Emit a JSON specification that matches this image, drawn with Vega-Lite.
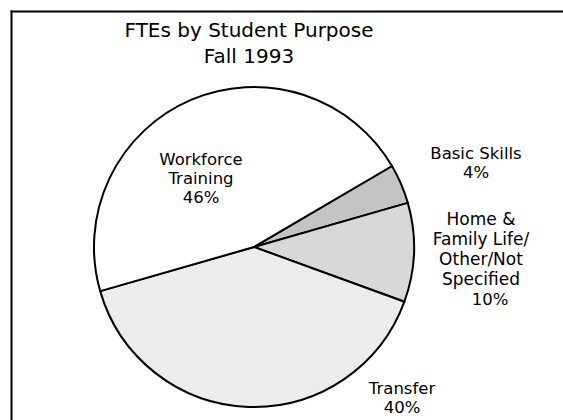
{
  "$schema": "https://vega.github.io/schema/vega-lite/v6.json",
  "width": 552,
  "height": 409,
  "autosize": "none",
  "padding": {"left": 11, "top": 11, "right": 0, "bottom": 0},
  "background": "white",
  "config": {
    "view": {"stroke": null},
    "axis": {"domain": true, "domainColor": "black", "domainWidth": 2, "domainCap": "square", "ticks": false, "labels": false, "grid": false, "title": null}
  },
  "title": {
    "text": ["FTEs by Student Purpose", "Fall 1993"],
    "font": "DejaVu Sans",
    "fontSize": 20,
    "fontWeight": "normal",
    "color": "black",
    "lineHeight": 26,
    "anchor": "middle",
    "frame": "group",
    "baseline": "alphabetic",
    "offset": 0,
    "dx": -38,
    "dy": 72
  },
  "layer": [
    {
      "data": {"values": [
        {"category": "Basic Skills", "value": 4, "order": 1, "cx": 0, "cy": 0},
        {"category": "Home & Family Life/Other/Not Specified", "value": 10, "order": 2, "cx": 0, "cy": 0},
        {"category": "Transfer", "value": 40, "order": 3, "cx": 0, "cy": 0},
        {"category": "Workforce Training", "value": 46, "order": 4, "cx": 0, "cy": 0}
      ]},
      "mark": {"type": "arc", "outerRadius": 160, "stroke": "black", "strokeWidth": 2},
      "encoding": {
        "x": {"field": "cx", "type": "quantitative", "scale": {"domain": [-243, 309], "nice": false, "zero": false}, "axis": {"orient": "top"}},
        "y": {"field": "cy", "type": "quantitative", "scale": {"domain": [-173, 236], "nice": false, "zero": false}, "axis": {"orient": "left"}},
        "theta": {"field": "value", "type": "quantitative", "stack": true, "scale": {"range": [1.040, 7.3232]}},
        "order": {"field": "order", "type": "quantitative"},
        "fill": {
          "field": "category", "type": "nominal",
          "scale": {"domain": ["Basic Skills", "Home & Family Life/Other/Not Specified", "Transfer", "Workforce Training"], "range": ["#c4c4c4", "#d8d8d8", "#ececec", "#ffffff"]},
          "legend": null
        }
      }
    },
    {
      "data": {"values": [
        {"label": "Workforce\nTraining\n46%", "lx": -53, "ly": 82},
        {"label": "Basic Skills\n4%", "lx": 222, "ly": 88},
        {"label": "10%", "lx": 236, "ly": -58},
        {"label": "Transfer\n40%", "lx": 148, "ly": -147}
      ]},
      "mark": {"type": "text", "font": "DejaVu Sans", "fontSize": 16.5, "color": "black", "lineBreak": "\n", "lineHeight": 19, "align": "center", "baseline": "alphabetic"},
      "encoding": {
        "x": {"field": "lx", "type": "quantitative"},
        "y": {"field": "ly", "type": "quantitative"},
        "text": {"field": "label", "type": "nominal"}
      }
    },
    {
      "data": {"values": [
        {"label": "Home &\nFamily Life/\nOther/Not\nSpecified", "lx": 227, "ly": 22}
      ]},
      "mark": {"type": "text", "font": "DejaVu Sans", "fontSize": 17, "color": "black", "lineBreak": "\n", "lineHeight": 20, "align": "center", "baseline": "alphabetic"},
      "encoding": {
        "x": {"field": "lx", "type": "quantitative"},
        "y": {"field": "ly", "type": "quantitative"},
        "text": {"field": "label", "type": "nominal"}
      }
    }
  ]
}
